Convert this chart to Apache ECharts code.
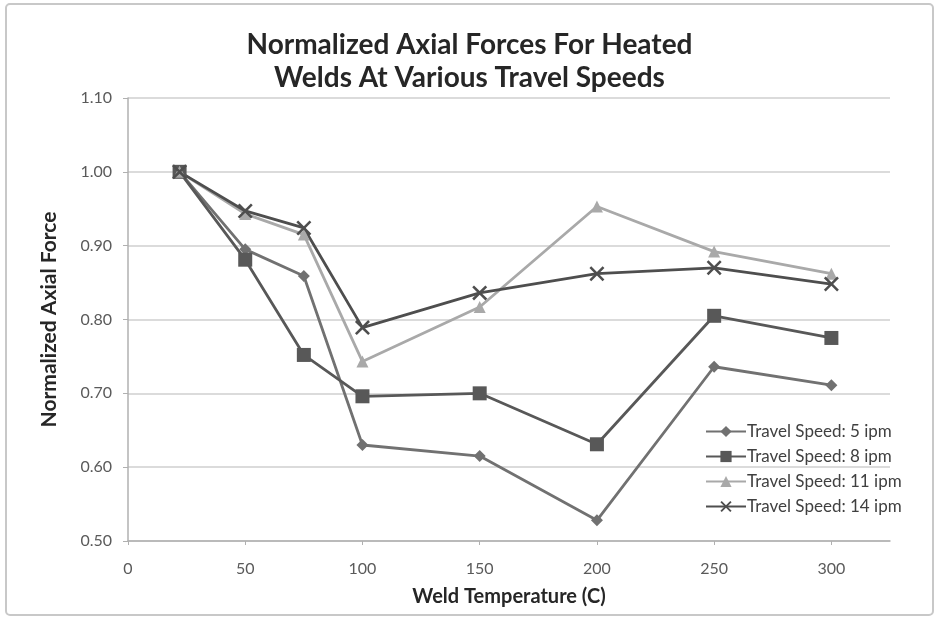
<!DOCTYPE html>
<html><head><meta charset="utf-8">
<script src="https://cdn.jsdelivr.net/npm/echarts@6/dist/echarts.min.js"></script>
<style>html,body{margin:0;padding:0;background:#fff}#c{width:939px;height:620px}</style>
</head><body><div id="c"></div>
<script>
const temps = [22, 50, 75, 100, 150, 200, 250, 300];
const seriesNames = ['Travel Speed: 5 ipm', 'Travel Speed: 8 ipm', 'Travel Speed: 11 ipm', 'Travel Speed: 14 ipm'];
const speed5 = [1.00, 0.895, 0.859, 0.630, 0.615, 0.528, 0.736, 0.711];
const speed8 = [1.00, 0.881, 0.752, 0.696, 0.700, 0.631, 0.805, 0.775];
const speed11 = [1.00, 0.943, 0.915, 0.743, 0.817, 0.953, 0.892, 0.862];
const speed14 = [1.00, 0.947, 0.924, 0.789, 0.836, 0.862, 0.870, 0.848];
const yTicks = [0.5, 0.6, 0.7, 0.8, 0.9, 1.0, 1.1];

const X = 'path://M0,1.2 L1.2,0 L5,3.8 L8.8,0 L10,1.2 L6.2,5 L10,8.8 L8.8,10 L5,6.2 L1.2,10 L0,8.8 L3.8,5 Z';
const styles = [
  {color:'#717171', symbol:'diamond', size:12},
  {color:'#585858', symbol:'rect', size:14},
  {color:'#a9a9a9', symbol:'triangle', size:12},
  {color:'#4e4e4e', symbol:X, size:15}
];
const data = [speed5, speed8, speed11, speed14];
const chart = echarts.init(document.getElementById('c'));
chart.setOption({
  animation:false,
  backgroundColor:'#fff',
  graphic:[{type:'rect', shape:{x:6,y:4,width:927,height:611,r:4}, style:{fill:'none', stroke:'#c8c8c8', lineWidth:2}}],
  title:{text:'Normalized Axial Forces For Heated\nWelds At Various Travel Speeds', left:'center', top:23,
    textStyle:{fontFamily:'Lato', fontWeight:'bold', fontSize:28, lineHeight:33, color:'#262626'}},
  grid:{left:128, right:49, top:98, bottom:79},
  legend:{orient:'vertical', left:700, top:418, itemGap:8, itemWidth:40, itemHeight:14,
    data:seriesNames, textStyle:{fontFamily:'Lato', fontSize:17, color:'#404040', padding:[0,0,0,-4]}},
  xAxis:{type:'value', min:0, max:325, interval:50, name:'Weld Temperature (C)', nameLocation:'middle', nameGap:46,
    nameTextStyle:{fontFamily:'Lato', fontWeight:'bold', fontSize:20, color:'#262626'},
    axisLine:{lineStyle:{color:'#b0b0b0', width:1.5}}, axisTick:{length:4, lineStyle:{color:'#b0b0b0'}},
    axisLabel:{showMaxLabel:false, fontFamily:'Lato', fontSize:16, color:'#5a5a5a', margin:20},
    splitLine:{show:false}},
  yAxis:{type:'value', min:yTicks[0], max:yTicks[yTicks.length-1], interval:0.1, name:'Normalized Axial Force', nameLocation:'middle', nameGap:68,
    nameTextStyle:{fontFamily:'Lato', fontWeight:'bold', fontSize:21, color:'#262626'},
    axisLine:{show:true, lineStyle:{color:'#b0b0b0', width:1.5}}, axisTick:{show:true, length:5, lineStyle:{color:'#b0b0b0'}},
    axisLabel:{formatter:v=>v.toFixed(2), fontFamily:'Lato', fontSize:16, color:'#5a5a5a', margin:16},
    splitLine:{lineStyle:{color:'#cfcfcf', width:1.5}}},
  series:data.map((d,i)=>({
    name:seriesNames[i], type:'line', data:temps.map((t,j)=>[t,d[j]]),
    symbol:styles[i].symbol, symbolSize:styles[i].size, showAllSymbol:true,
    lineStyle:{color:styles[i].color, width:2.8},
    itemStyle:{color:styles[i].color}
  }))
});
</script></body></html>
